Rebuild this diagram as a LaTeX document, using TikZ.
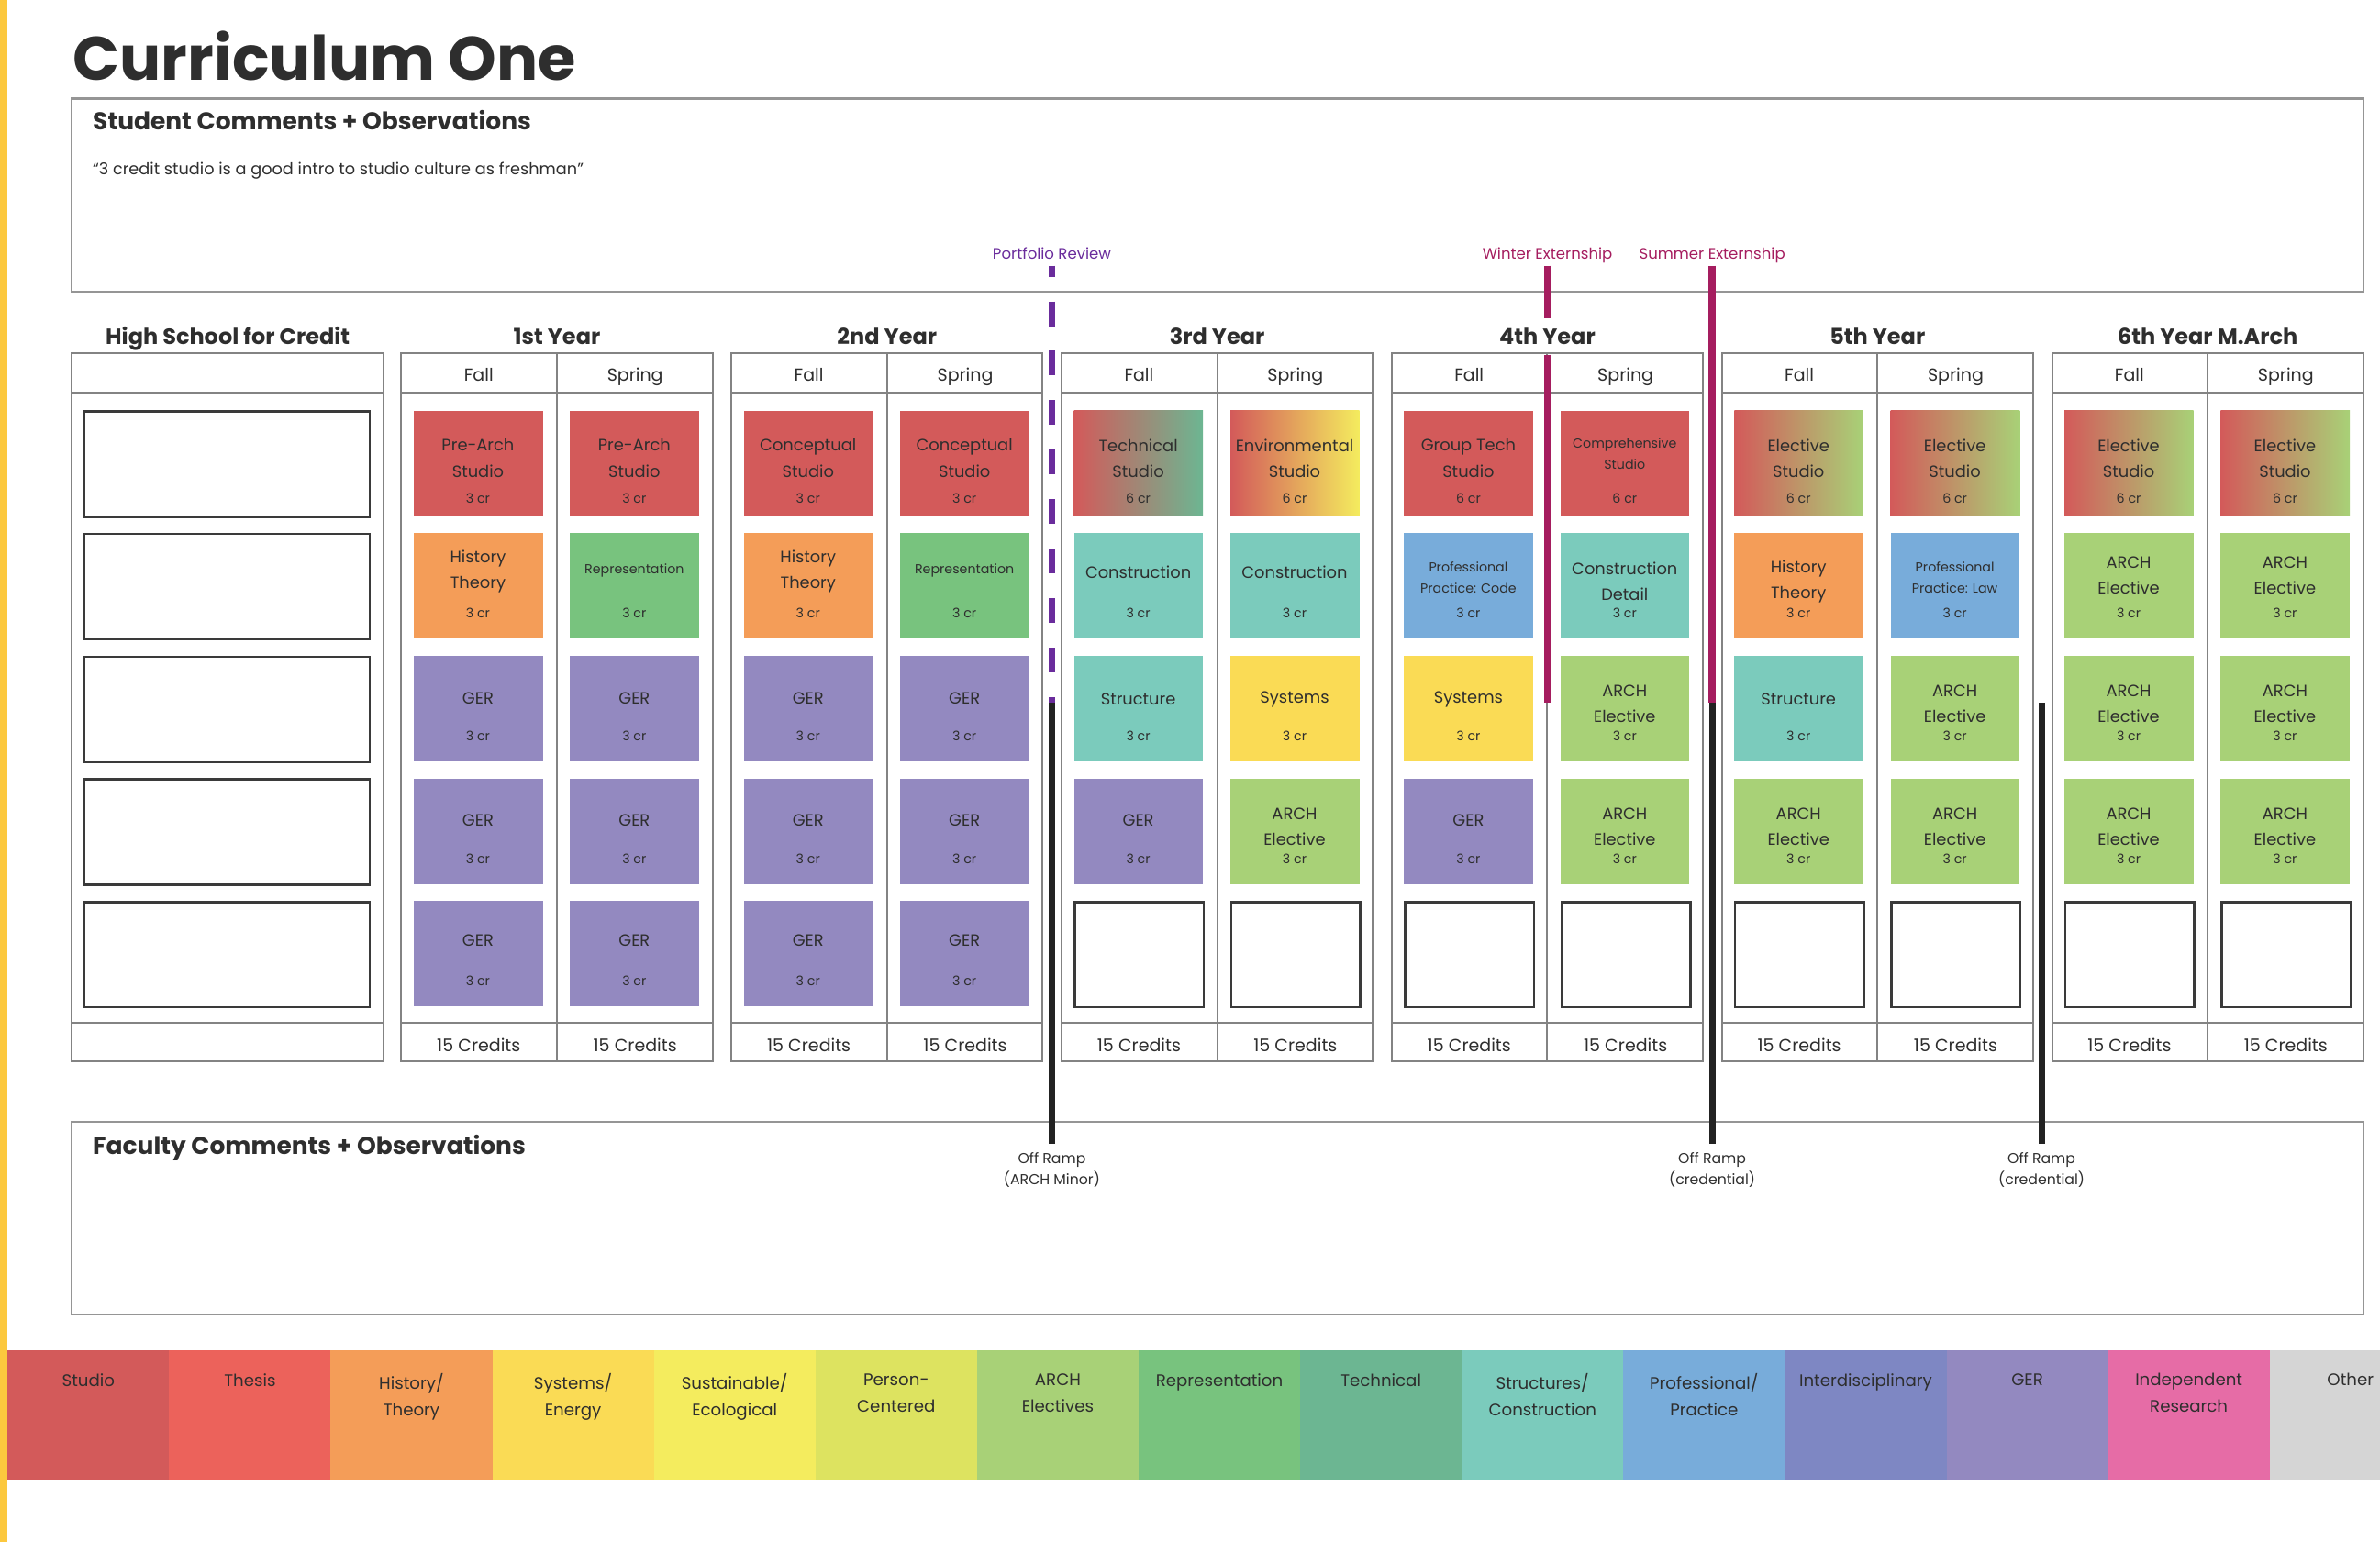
\documentclass[tikz,border=0pt]{standalone}
\usepackage{fontspec}
\setmainfont{Poppins}

\definecolor{ink}{HTML}{2E2E2E}
\definecolor{panelgray}{HTML}{959595}
\definecolor{framegray}{HTML}{838383}
\definecolor{boxline}{HTML}{3A3A3A}
\definecolor{stripe}{HTML}{FCC83E}
\definecolor{cstudio}{HTML}{D35A5A}
\definecolor{cthesis}{HTML}{EC625B}
\definecolor{chistory}{HTML}{F49D58}
\definecolor{csystems}{HTML}{FADB55}
\definecolor{csustain}{HTML}{F4EC5E}
\definecolor{cperson}{HTML}{DDE360}
\definecolor{celective}{HTML}{A8D177}
\definecolor{crepr}{HTML}{78C37E}
\definecolor{ctech}{HTML}{6CB692}
\definecolor{cstruct}{HTML}{7BCBBC}
\definecolor{cprof}{HTML}{78ACDA}
\definecolor{cinter}{HTML}{7E87C3}
\definecolor{cger}{HTML}{9389C0}
\definecolor{cindep}{HTML}{E66CA6}
\definecolor{cother}{HTML}{D5D5D5}
\definecolor{creview}{HTML}{6A2C9C}
\definecolor{cextern}{HTML}{A51D5F}
\definecolor{cramp}{HTML}{222222}

\begin{document}
\begin{tikzpicture}[x=1pt, y=-1pt,
        every node/.style={inner sep=0pt, text=ink},
        panel/.style={draw=panelgray, line width=1.3pt},
        frame/.style={draw=framegray, line width=1.2pt},
        course/.style={anchor=north west, minimum width=85pt,
            minimum height=69.5pt},
        emptybox/.style={course, draw=boxline, line width=1.5pt},
        hsbox/.style={emptybox, minimum width=188pt},
        cname/.style={align=center, font=\fontsize{10.8}{17}\selectfont},
        cnamesm/.style={align=center, font=\fontsize{8.6}{14}\selectfont},
        credit/.style={font=\fontsize{8.6}{10}\selectfont},
        yeartitle/.style={anchor=base,
            font=\bfseries\fontsize{14.5}{17}\selectfont},
        term/.style={anchor=base, font=\fontsize{11.5}{13}\selectfont},
        markerlbl/.style={anchor=base, font=\fontsize{10}{12}\selectfont},
        ramplbl/.style={anchor=north, align=center,
            font=\fontsize{9.5}{14}\selectfont},
        legendtxt/.style={anchor=north, align=center,
            font=\fontsize{11}{17.5}\selectfont},
        studio/.style={fill=cstudio},
        history/.style={fill=chistory},
        repr/.style={fill=crepr},
        ger/.style={fill=cger},
        struct/.style={fill=cstruct},
        systems/.style={fill=csystems},
        elective/.style={fill=celective},
        prof/.style={fill=cprof},
        techstudio/.style={left color=cstudio, right color=ctech},
        envstudio/.style={left color=cstudio, middle color=chistory,
            right color=csustain},
        elstudio/.style={left color=cstudio, right color=celective},
        reviewline/.style={draw=creview, line width=4.5pt,
            dash pattern=on 16.3pt off 16.3pt, dash phase=9pt},
        externline/.style={draw=cextern, line width=4.5pt},
        rampline/.style={draw=cramp, line width=4.2pt}]

        \useasboundingbox (0, 0) rectangle (1568, 1016);

        % title and comment panels
        \node[anchor=base west, font=\bfseries\fontsize{40.5}{44}\selectfont]
            (title) at (48, 53) {Curriculum One};
        \draw[panel] (47, 65) rectangle (1557, 192.4);
        \node[anchor=base west, font=\bfseries\fontsize{16}{18}\selectfont]
            (studenthd) at (61, 85.6) {Student Comments + Observations};
        \node[anchor=base west, font=\fontsize{10.7}{12}\selectfont]
            (quote) at (61, 114.9)
            {“3 credit studio is a good intro to studio culture as freshman”};
        \draw[panel] (47, 739.5) rectangle (1557, 866);
        \node[anchor=base west, font=\bfseries\fontsize{16}{18}\selectfont]
            (facultyhd) at (61, 761) {Faculty Comments + Observations};

        % high school table
        \draw[frame] (47, 233) rectangle (252.5, 699.5);
        \draw[frame] (47, 259) -- (252.5, 259);
        \draw[frame] (47, 674) -- (252.5, 674);
        \node[yeartitle] (hs) at (150, 227) {High School for Credit};
        \foreach \rn in {1,...,5} {
            \pgfmathsetmacro\by{270.4 + (\rn - 1) * 80.8}
            \node[hsbox] (hs\rn) at (55, \by) {};
        }

        % the six years
        \foreach \yr/\ttl in {1/1st Year, 2/2nd Year, 3/3rd Year,
                4/4th Year, 5/5th Year, 6/6th Year M.Arch} {
            \pgfmathsetmacro\lft{264.4 + (\yr - 1) * 217.5}
            \draw[frame] (\lft, 233) rectangle (\lft + 205, 699.5);
            \draw[frame] (\lft, 259) -- (\lft + 205, 259);
            \draw[frame] (\lft, 674) -- (\lft + 205, 674);
            \draw[frame] (\lft + 102.5, 233) -- (\lft + 102.5, 699.5);
            \node[yeartitle] (yr\yr) at (\lft + 102.5, 227) {\ttl};
            \node[term] (fall\yr) at (\lft + 51, 251) {Fall};
            \node[term] (spring\yr) at (\lft + 154, 251) {Spring};
            \node[term] (crf\yr) at (\lft + 51, 693) {15 Credits};
            \node[term] (crs\yr) at (\lft + 154, 693) {15 Credits};
        }

        % courses
        \foreach \cn/\rn/\kind/\fnt/\txt/\crd/\dy in {
                1/1/studio/cname/{Pre-Arch\\Studio}/3/31.5,
                1/2/history/cname/{History\\Theory}/3/25.5,
                1/3/ger/cname/GER/3/28, 1/4/ger/cname/GER/3/28,
                1/5/ger/cname/GER/3/26,
                2/1/studio/cname/{Pre-Arch\\Studio}/3/31.5,
                2/2/repr/cnamesm/Representation/3/24.5,
                2/3/ger/cname/GER/3/28, 2/4/ger/cname/GER/3/28,
                2/5/ger/cname/GER/3/26,
                3/1/studio/cname/{Conceptual\\Studio}/3/31.5,
                3/2/history/cname/{History\\Theory}/3/25.5,
                3/3/ger/cname/GER/3/28, 3/4/ger/cname/GER/3/28,
                3/5/ger/cname/GER/3/26,
                4/1/studio/cname/{Conceptual\\Studio}/3/31.5,
                4/2/repr/cnamesm/Representation/3/24.5,
                4/3/ger/cname/GER/3/28, 4/4/ger/cname/GER/3/28,
                4/5/ger/cname/GER/3/26,
                5/1/techstudio/cname/{Technical\\Studio}/6/31.5,
                5/2/struct/cname/Construction/3/26,
                5/3/struct/cname/Structure/3/28.8,
                5/4/ger/cname/GER/3/28,
                6/1/envstudio/cname/{Environmental\\Studio}/6/31.5,
                6/2/struct/cname/Construction/3/26,
                6/3/systems/cname/Systems/3/28.8,
                6/4/elective/cname/{ARCH\\Elective}/3/32,
                7/1/studio/cname/{Group Tech\\Studio}/6/31.5,
                7/2/prof/cnamesm/{Professional\\Practice: Code}/3/29.3,
                7/3/systems/cname/Systems/3/28.8,
                7/4/ger/cname/GER/3/28,
                8/1/studio/cnamesm/{Comprehensive\\Studio}/6/28.7,
                8/2/struct/cname/{Construction\\Detail}/3/32,
                8/3/elective/cname/{ARCH\\Elective}/3/32,
                8/4/elective/cname/{ARCH\\Elective}/3/32,
                9/1/elstudio/cname/{Elective\\Studio}/6/31.5,
                9/2/history/cname/{History\\Theory}/3/32,
                9/3/struct/cname/Structure/3/28.8,
                9/4/elective/cname/{ARCH\\Elective}/3/32,
                10/1/elstudio/cname/{Elective\\Studio}/6/31.5,
                10/2/prof/cnamesm/{Professional\\Practice: Law}/3/29.3,
                10/3/elective/cname/{ARCH\\Elective}/3/32,
                10/4/elective/cname/{ARCH\\Elective}/3/32,
                11/1/elstudio/cname/{Elective\\Studio}/6/31.5,
                11/2/elective/cname/{ARCH\\Elective}/3/28,
                11/3/elective/cname/{ARCH\\Elective}/3/32,
                11/4/elective/cname/{ARCH\\Elective}/3/32,
                12/1/elstudio/cname/{Elective\\Studio}/6/31.5,
                12/2/elective/cname/{ARCH\\Elective}/3/28,
                12/3/elective/cname/{ARCH\\Elective}/3/32,
                12/4/elective/cname/{ARCH\\Elective}/3/32} {
            \pgfmathsetmacro\bx{272.4 + floor((\cn - 1) / 2) * 217.5
                + mod(\cn - 1, 2) * 103}
            \pgfmathsetmacro\by{270.4 + (\rn - 1) * 80.8}
            \pgfmathsetmacro\cry{\rn == 1 ? 58 : 53}
            \node[course, \kind] (c\cn-\rn) at (\bx, \by) {};
            \node[\fnt] (n\cn-\rn) at (\bx + 42.5, \by + \dy) {\txt};
            \node[credit] (k\cn-\rn) at (\bx + 42.5, \by + \cry) {\crd\ cr};
        }

        % empty slots
        \foreach \cn in {5,...,12} {
            \pgfmathsetmacro\bx{272.4 + floor((\cn - 1) / 2) * 217.5
                + mod(\cn - 1, 2) * 103}
            \node[emptybox] (c\cn-5) at (\bx, 593.6) {};
        }

        % portfolio review
        \node[markerlbl, text=creview] (review) at (693, 170.5)
            {Portfolio Review};
        \coordinate (reviewtop) at (693, 175);
        \coordinate (reviewend) at (693, 463);
        \coordinate (ramp1) at (693, 754);
        \draw[reviewline] (reviewtop) -- (reviewend);
        \draw[rampline] (reviewend) -- (ramp1);
        \node[ramplbl] (ramp1lbl) at (693, 759.5) {Off Ramp\\(ARCH Minor)};

        % winter externship
        \node[markerlbl, text=cextern] (winter) at (1019.5, 170.5)
            {Winter Externship};
        \coordinate (wintertop) at (1019.5, 175);
        \coordinate (wintergap) at (1019.5, 210);
        \coordinate (winterin) at (1019.5, 233.7);
        \coordinate (winterend) at (1019.5, 463);
        \draw[externline] (wintertop) -- (wintergap);
        \draw[externline] (winterin) -- (winterend);

        % summer externship
        \node[markerlbl, text=cextern] (summer) at (1128, 170.5)
            {Summer Externship};
        \coordinate (summertop) at (1128, 175);
        \coordinate (summerend) at (1128, 463);
        \coordinate (ramp2) at (1128, 754);
        \draw[externline] (summertop) -- (summerend);
        \draw[rampline] (summerend) -- (ramp2);
        \node[ramplbl] (ramp2lbl) at (1128, 759.5) {Off Ramp\\(credential)};

        % last off ramp
        \coordinate (ramp3top) at (1345, 463);
        \coordinate (ramp3) at (1345, 754);
        \draw[rampline] (ramp3top) -- (ramp3);
        \node[ramplbl] (ramp3lbl) at (1345, 759.5) {Off Ramp\\(credential)};

        % legend
        \begin{scope}
            \clip (0, 0) rectangle (1568, 1016);
            \foreach \i/\col/\txt in {0/cstudio/Studio, 1/cthesis/Thesis,
                    2/chistory/{History/\\Theory},
                    3/csystems/{Systems/\\Energy},
                    4/csustain/{Sustainable/\\Ecological},
                    5/cperson/{Person-\\Centered},
                    6/celective/{ARCH\\Electives},
                    7/crepr/Representation, 8/ctech/Technical,
                    9/cstruct/{Structures/\\Construction},
                    10/cprof/{Professional/\\Practice},
                    11/cinter/Interdisciplinary, 12/cger/GER,
                    13/cindep/{Independent\\Research}, 14/cother/Other} {
                \fill[\col] (5 + \i * 106.45, 890) rectangle ++(106.45, 85.2);
                \node[legendtxt] (leg\i) at (5 + \i * 106.45 + 53.2, 905)
                    {\txt};
            }
        \end{scope}
        \fill[stripe] (0, 0) rectangle (5, 1016);
    \end{tikzpicture}
\end{document}
